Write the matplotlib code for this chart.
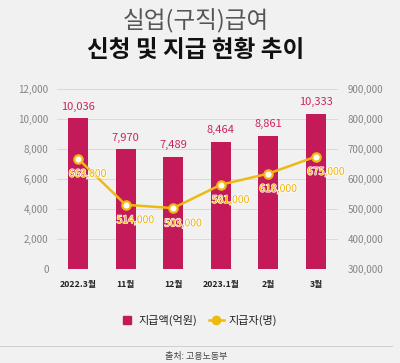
import matplotlib.pyplot as plt
import matplotlib.patheffects as pe
from matplotlib.lines import Line2D

plt.rcParams['font.family'] = ['Noto Sans CJK KR', 'DejaVu Sans']

months = ["2022.3월", "11월", "12월", "2023.1월", "2월", "3월"]
amount = [10036, 7970, 7489, 8464, 8861, 10333]          # 지급액(억원)
people = [668000, 514000, 503000, 581000, 618000, 675000]  # 지급자(명)

bar_color = "#C41A59"
line_color = "#EDBA12"
label_gold = "#EBAE00"
bg = "#F1F1F1"

fig = plt.figure(figsize=(4.0, 3.63), dpi=100, facecolor=bg)
ax = fig.add_axes([57 / 400, 1 - 269 / 363, 281 / 400, 180 / 363])
ax.set_facecolor(bg)
x = list(range(len(months)))

ax.bar(x, amount, width=0.42, color=bar_color, zorder=2)
ax.set_ylim(0, 12000)
ax.set_xlim(-0.44, 5.46)
ax.set_yticks(range(0, 12001, 2000))
ax.set_yticklabels([f"{v:,}" for v in range(0, 12001, 2000)])
ax.grid(axis="y", color="#DADADA", linewidth=0.7, zorder=0)
ax.set_axisbelow(True)
ax.set_xticks(x)
ax.set_xticklabels(months, fontsize=6.3, fontweight="bold", color="#222222")
ax.tick_params(axis="x", length=0, pad=8)
ax.tick_params(axis="y", length=0, pad=6, labelsize=7, labelcolor="#858585")
for s in ax.spines.values():
    s.set_visible(False)

for xi, v in zip(x, amount):
    ax.annotate(f"{v:,}", (xi, v), xytext=(0, 5), textcoords="offset points",
                ha="center", va="bottom", fontsize=8, color="#CC2460")

ax2 = ax.twinx()
ax2.set_ylim(300000, 900000)
ax2.set_yticks(range(300000, 900001, 100000))
ax2.set_yticklabels([f"{v:,}" for v in range(300000, 900001, 100000)])
ax2.tick_params(axis="y", length=0, pad=7, labelsize=7, labelcolor="#858585")
for s in ax2.spines.values():
    s.set_visible(False)
ax2.plot(x, people, color=line_color, linewidth=1.8, marker="o", markersize=6,
         markerfacecolor="white", markeredgecolor=line_color, markeredgewidth=1.6, zorder=3)
for xi, v in zip(x, people):
    ax2.annotate(f"{v:,}", (xi, v), xytext=(7, -11), textcoords="offset points",
                 ha="center", va="center", fontsize=7.5, color=label_gold,
                 fontweight="medium",
                 path_effects=[pe.withStroke(linewidth=1.0, foreground="white")])

fig.text(0.49, 1 - 21 / 363, "실업(구직)급여", ha="center", va="center",
         fontsize=17, color="#555555", fontweight="light")
fig.text(0.49, 1 - 50 / 363, "신청 및 지급 현황 추이", ha="center", va="center",
         fontsize=17, fontweight="bold", color="#111111")

handles = [Line2D([0], [0], linestyle="none", marker="s", markersize=5.5,
                  color=bar_color, label="지급액(억원)"),
           Line2D([0], [0], color=line_color, linewidth=1.8, marker="o",
                  markersize=6, markerfacecolor=line_color, label="지급자(명)")]
leg = fig.legend(handles=handles, loc="center", bbox_to_anchor=(0.495, 1 - 320 / 363),
                 ncol=2, frameon=False, fontsize=8, handlelength=1.4,
                 columnspacing=1.0, handletextpad=0.4,
                 prop={"weight": "medium", "size": 8})
for t in leg.get_texts():
    t.set_color("#222222")

fig.add_artist(Line2D([0.0, 0.98], [1 - 346 / 363] * 2, color="#CFCFCF", linewidth=0.7))
fig.text(0.49, 1 - 356 / 363, "출처: 고용노동부", ha="center", va="center",
         fontsize=6.5, color="#444444")

fig.savefig("out.png", dpi=100, facecolor=bg)
